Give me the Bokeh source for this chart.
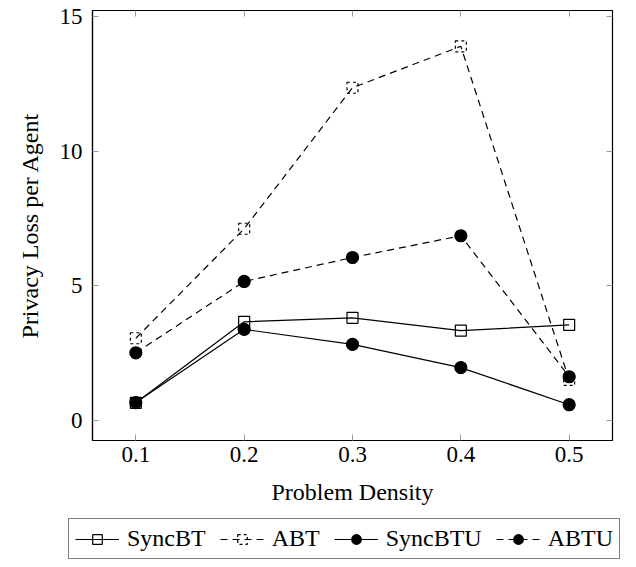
from bokeh.plotting import figure
from bokeh.layouts import column
from bokeh.models import LinearAxis, FixedTicker, Range1d, Legend
from bokeh.embed import file_html
from bokeh.resources import INLINE

density = [0.1, 0.2, 0.3, 0.4, 0.5]
sync_bt = [0.65, 3.66, 3.81, 3.33, 3.55]
abt = [3.05, 7.12, 12.36, 13.9, 1.5]
sync_btu = [0.66, 3.38, 2.82, 1.96, 0.58]
abtu = [2.51, 5.16, 6.05, 6.86, 1.62]

series_names = ["SyncBT", "ABT", "SyncBTU", "ABTU"]
x_ticks = [0.1, 0.2, 0.3, 0.4, 0.5]
y_ticks = [0, 5, 10, 15]

FONT = "Liberation Serif"
TICK_FS = "23px"
LAB_FS = "24px"
LW = 1.2
DASH = "7 5"

p = figure(output_backend="svg", toolbar_location=None,
           frame_width=520, frame_height=430,
           x_range=Range1d(0.06, 0.54), y_range=Range1d(-0.75, 15.23),
           min_border_left=92, min_border_right=8, min_border_top=10,
           min_border_bottom=70)
p.grid.visible = False
p.outline_line_color = "black"
p.outline_line_width = 1.2
p.background_fill_color = "white"
p.border_fill_color = "white"

for ax, ticks in ((p.xaxis[0], x_ticks), (p.yaxis[0], y_ticks)):
    ax.ticker = FixedTicker(ticks=ticks)
    ax.minor_tick_line_color = None
    ax.major_tick_in = 6
    ax.major_tick_out = 0
    ax.major_tick_line_color = "#999999"
    ax.axis_line_color = "black"
    ax.axis_line_width = 1.2
    ax.major_label_text_font = FONT
    ax.major_label_text_font_size = TICK_FS
    ax.major_label_text_color = "black"
    ax.axis_label_text_font = FONT
    ax.axis_label_text_font_size = LAB_FS
    ax.axis_label_text_font_style = "normal"
    ax.axis_label_text_color = "black"

p.xaxis[0].axis_label = "Problem Density"
p.xaxis[0].major_label_standoff = 6
p.xaxis[0].axis_label_standoff = 14
p.yaxis[0].axis_label = "Privacy Loss per Agent"
p.yaxis[0].major_label_standoff = 10
p.yaxis[0].axis_label_standoff = 14

# mirrored ticks on right and top (no labels)
rax = LinearAxis(ticker=FixedTicker(ticks=y_ticks), major_tick_in=6, major_tick_out=0,
                 major_tick_line_color="#999999", minor_tick_line_color=None,
                 axis_line_color="black", major_label_standoff=0,
                 major_label_overrides={t: "" for t in y_ticks})
tax = LinearAxis(ticker=FixedTicker(ticks=x_ticks), major_tick_in=6, major_tick_out=0,
                 major_tick_line_color="#999999", minor_tick_line_color=None,
                 axis_line_color="black", major_label_standoff=0,
                 major_label_overrides={t: "" for t in x_ticks})
p.add_layout(rax, "right")
p.add_layout(tax, "above")

styles = [
    dict(marker="square", size=11, fill=None, dash="solid", mdash="solid"),
    dict(marker="square", size=11, fill=None, dash=DASH, mdash="3 3"),
    dict(marker="circle", size=12, fill="black", dash="solid", mdash="solid"),
    dict(marker="circle", size=12, fill="black", dash=DASH, mdash="solid"),
]
data = [sync_bt, abt, sync_btu, abtu]

for vals, st in zip(data, styles):
    p.line(density, vals, line_color="black", line_width=LW, line_dash=st["dash"])
    p.scatter(density, vals, marker=st["marker"], size=st["size"], fill_color=st["fill"],
              line_color="black", line_width=LW, line_dash=st["mdash"])

# legend strip below the plot: hidden proxy renderers of the same series
pl = figure(width=620, height=55, output_backend="svg", toolbar_location=None,
            x_range=Range1d(0, 1), y_range=Range1d(0, 1),
            x_axis_location=None, y_axis_location=None, min_border=0)
pl.grid.visible = False
pl.outline_line_color = None
pl.background_fill_color = "white"
pl.border_fill_color = "white"
if "frame_align" in pl.properties():
    pl.frame_align = False
    p.frame_align = False

items = []
for name, vals, st in zip(series_names, data, styles):
    rl = pl.line(density, vals, line_color="black", line_width=LW, line_dash=st["dash"],
                 visible=False)
    rs = pl.scatter(density, vals, marker=st["marker"], size=st["size"],
                    fill_color=st["fill"], line_color="black", line_width=LW,
                    line_dash=st["mdash"], visible=False)
    items.append((name, [rl, rs]))

legend = Legend(items=items, orientation="horizontal", location=(68, 6),
                label_text_font=FONT, label_text_font_size=LAB_FS,
                label_text_color="black", background_fill_color="white",
                inactive_fill_alpha=0,
                glyph_width=44, glyph_height=24, label_standoff=8, spacing=14,
                padding=6, margin=0, border_line_color="black",
                border_line_width=1.2, label_height=24)
pl.add_layout(legend, "center")

open("out.html", "w").write(file_html(column(p, pl, spacing=0), INLINE))
